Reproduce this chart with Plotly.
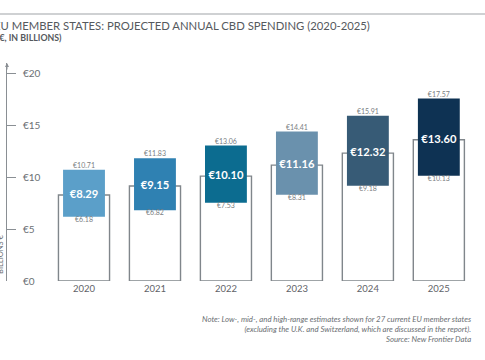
import plotly.graph_objects as go

years = ["2020", "2021", "2022", "2023", "2024", "2025"]
low = [6.18, 6.82, 7.53, 8.31, 9.18, 10.13]
mid = [8.29, 9.15, 10.10, 11.16, 12.32, 13.60]
high = [10.71, 11.83, 13.06, 14.41, 15.91, 17.57]
bar_colors = ["#5b9fc9", "#2f81b2", "#0c6c90", "#6a91ad", "#375b76", "#0e3253"]
y_ticks = [0, 5, 10, 15, 20]
y_ticktext = ["€0", "€5", "€10", "€15", "€20"]

title = "EU MEMBER STATES: PROJECTED ANNUAL CBD SPENDING (2020-2025)"
subtitle = "(€, IN BILLIONS)"
note = ("Note: Low-, mid-, and high-range estimates shown for 27 current EU member states<br>"
        "(excluding the U.K. and Switzerland, which are discussed in the report).<br>"
        "Source: New Frontier Data")

FONT = "Lato"
GRAY = "#6b6f73"

fig = go.Figure()

# mid-range outline bars
fig.add_trace(go.Bar(
    x=years, y=mid, width=0.72,
    marker=dict(color="white", line=dict(color="#80868b", width=1.4)),
    showlegend=False, hoverinfo="skip",
))
# low-high range bars
fig.add_trace(go.Bar(
    x=years, y=[h - l for h, l in zip(high, low)], base=low, width=0.59,
    marker=dict(color=bar_colors, line=dict(width=0)),
    showlegend=False, hoverinfo="skip",
))
# labels
fig.add_trace(go.Scatter(
    x=years, y=mid, mode="text", text=[f"€{v:.2f}" for v in mid],
    textposition="middle center",
    textfont=dict(family=FONT, size=11.2, color="white", weight="bold"),
    showlegend=False, hoverinfo="skip",
))
fig.add_trace(go.Scatter(
    x=years, y=high, mode="text", text=[f"€{v:.2f}" for v in high],
    textposition="top center",
    textfont=dict(family=FONT, size=7, color="#7a7e82"),
    showlegend=False, hoverinfo="skip",
))
fig.add_trace(go.Scatter(
    x=years, y=low, mode="text", text=[f"€{v:.2f}" for v in low],
    textposition="bottom center",
    textfont=dict(family=FONT, size=7, color="#7a7e82"),
    showlegend=False, hoverinfo="skip",
))

fig.update_layout(
    width=485, height=360,
    margin=dict(l=7, r=5, t=63, b=79),
    paper_bgcolor="white", plot_bgcolor="white",
    barmode="overlay",
    font=dict(family=FONT, color=GRAY),
    xaxis=dict(
        range=[-1.085, 5.58], showgrid=False, zeroline=False, showline=False,
        ticks="", tickfont=dict(family=FONT, size=9.5, color="#5f6368"),
    ),
    yaxis=dict(
        range=[0, 21], showgrid=False, zeroline=False,
        showline=True, linecolor="#8a8f94", linewidth=1,
        tickvals=y_ticks, ticktext=y_ticktext,
        ticks="inside", ticklen=9, tickcolor="#8a8f94", tickwidth=1,
        ticklabelposition="inside", ticklabelstandoff=6, ticklabeloverflow="allow",
        tickfont=dict(family=FONT, size=10, color="#6b6f73"),
    ),
    shapes=[
        dict(type="line", xref="paper", yref="paper", x0=-0.1, x1=1.1,
             y0=1.2248, y1=1.2248, line=dict(color="#cfd1d3", width=2)),
    ],
    annotations=[
        dict(xref="paper", yref="paper", x=-0.031, y=1.174, xanchor="left", yanchor="middle",
             text=title, showarrow=False,
             font=dict(family=FONT, size=11.3, color="#55595d")),
        dict(xref="paper", yref="paper", x=-0.026, y=1.115, xanchor="left", yanchor="middle",
             text=subtitle, showarrow=False,
             font=dict(family=FONT, size=8.8, color="#55595d", weight="bold")),
        dict(xref="paper", yref="paper", x=-0.0127, y=0.124, xanchor="center", yanchor="middle",
             text="BILLIONS €", textangle=-90, showarrow=False,
             font=dict(family=FONT, size=7.5, color=GRAY)),
        dict(xref="paper", yref="paper", x=0.985, y=-0.142, xanchor="right", yanchor="top",
             text=note, align="right", showarrow=False,
             font=dict(family=FONT, size=7.8, color="#6b6f73", style="italic")),
        # axis arrow
        dict(xref="x", yref="y", x=-1.085, y=21, ax=0, ay=8, axref="pixel", ayref="pixel",
             text="", showarrow=True, arrowhead=2, arrowsize=0.8, arrowwidth=1,
             arrowcolor="#8a8f94"),
    ],
)

fig.write_html("out.html", config={"displayModeBar": False},
               post_script="document.body.style.margin='0';")
